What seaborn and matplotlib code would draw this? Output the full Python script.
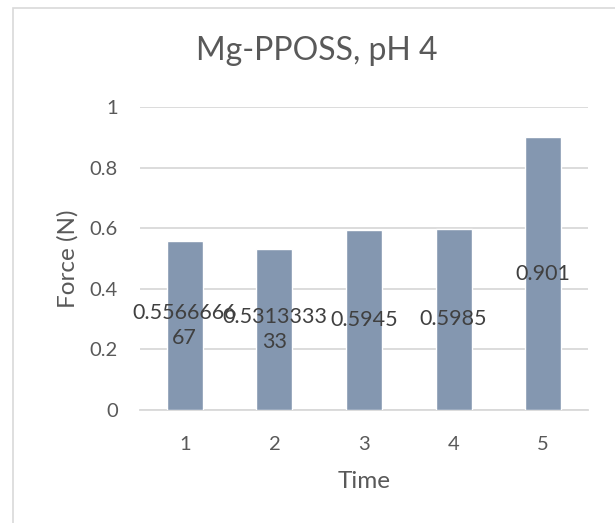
import textwrap
import matplotlib
matplotlib.use("Agg")
import matplotlib.pyplot as plt
from matplotlib.patches import Rectangle
import pandas as pd
import seaborn as sns

# Measured force per time point
times = ["1", "2", "3", "4", "5"]
force = [0.556666667, 0.531333333, 0.5945, 0.5985, 0.901]
y_ticks = [0, 0.2, 0.4, 0.6, 0.8, 1]
y_tick_labels = ["0", "0.2", "0.4", "0.6", "0.8", "1"]

sns.set_theme(style="white")
plt.rcParams["font.family"] = ["Lato", "DejaVu Sans"]

TEXT = "#595959"
BAR = "#8497B0"
GRID = "#D9D9D9"

df = pd.DataFrame({"Time": times, "Force": force})

fig = plt.figure(figsize=(6.15, 5.23), dpi=100)
ax = fig.add_axes([140 / 615, 0.216, 448 / 615, 0.5794])

# chart-area frame
fig.patches.append(Rectangle((13 / 615, -0.1), 1.2, 1.1 - 8 / 523,
                             transform=fig.transFigure, fill=False,
                             edgecolor=GRID, linewidth=1.2))

sns.barplot(data=df, x="Time", y="Force", order=times, color=BAR,
            width=0.40, saturation=1, ax=ax, zorder=3)

ax.set_xlim(-0.5, 4.5)
ax.set_ylim(0, 1)
ax.set_yticks(y_ticks)
ax.set_yticklabels(y_tick_labels)
ax.yaxis.grid(True, color=GRID, linewidth=1.3, zorder=0)
ax.set_axisbelow(True)
for side in ["top", "right", "left"]:
    ax.spines[side].set_visible(False)
ax.spines["bottom"].set_color(GRID)
ax.spines["bottom"].set_linewidth(1.3)
ax.tick_params(axis="both", length=0, labelsize=14.5, colors=TEXT)
ax.tick_params(axis="y", pad=16)
ax.tick_params(axis="x", pad=19)

ax.set_xlabel("Time", fontsize=17.5, color=TEXT, labelpad=13)
ax.set_ylabel("Force (N)", fontsize=17.5, color=TEXT, labelpad=8)
fig.text(317 / 615, 0.902, "Mg-PPOSS, pH 4", ha="center", va="center",
         fontsize=23, color=TEXT)

# value labels centred in each bar, wrapped like the spreadsheet output
for i, v in enumerate(force):
    label = "\n".join(textwrap.wrap(f"{v:.9g}", 9))
    ax.text(i, v / 2, label, ha="center", va="center", fontsize=15.5,
            color="#404040", linespacing=1.3, zorder=4)

fig.savefig("out.png", dpi=100, facecolor="white")
